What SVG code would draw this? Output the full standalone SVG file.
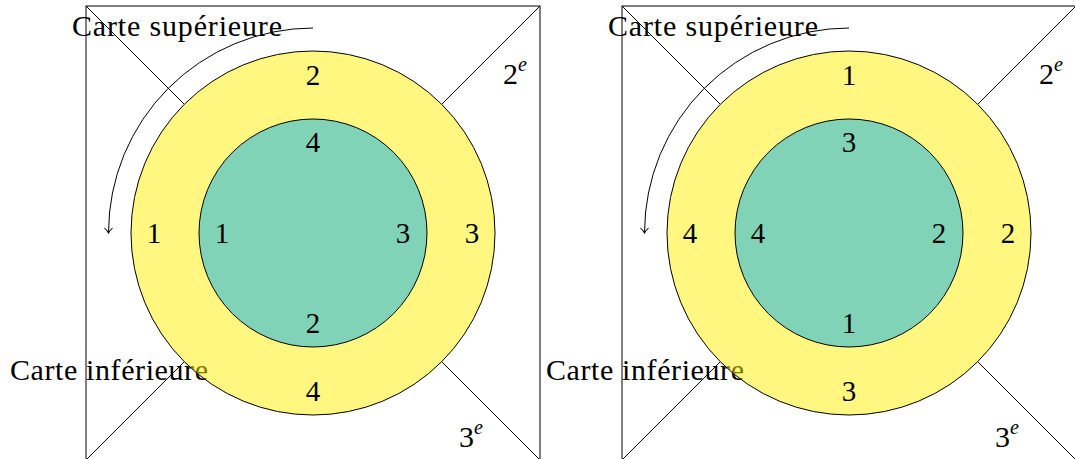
<svg xmlns="http://www.w3.org/2000/svg" width="1075" height="459" viewBox="0 0 1075 459">
<style>
.ln{fill:none;stroke:#000;stroke-width:1}
.outer{fill:#FFEF00;fill-opacity:0.5;stroke:#000;stroke-width:1}
.inner{fill:#80D3B7;stroke:#000;stroke-width:1}
.t{font-family:"Liberation Serif","Times New Roman",serif;font-size:30px;fill:#000}
.n{font-family:"Liberation Serif","Times New Roman",serif;font-size:29px;fill:#000;text-anchor:middle}
.sup{font-size:20px;font-style:italic}
</style>
<defs>
<marker id="arr" viewBox="-6 -5 8 10" refX="0" refY="0" markerWidth="8" markerHeight="10" markerUnits="userSpaceOnUse" orient="auto">
<path d="M-5,-4 Q-2,-1 0,0 Q-2,1 -5,4" fill="none" stroke="#000" stroke-width="1"/>
</marker>
</defs>
<g id="fig1">
<g id="frame1"><rect class="ln" x="86" y="6" width="454" height="454"/></g>
<g id="connectors1">
<line class="ln" x1="86" y1="6" x2="184" y2="104"/>
<line class="ln" x1="540" y1="6" x2="442" y2="104"/>
<line class="ln" x1="86" y1="460" x2="184" y2="362"/>
<line class="ln" x1="540" y1="460" x2="442" y2="362"/>
<path class="ln" d="M313,28 A205,205 0 0 0 108.5,233" marker-end="url(#arr)"/>
</g>
<g id="label-sup1"><text class="t" x="72" y="36" textLength="210" lengthAdjust="spacing">Carte supérieure</text></g>
<g id="label-inf1"><text class="t" x="10" y="380" textLength="198" lengthAdjust="spacing">Carte inférieure</text></g>
<g id="outer1"><circle class="outer" cx="313" cy="233" r="182"/>
<text class="n" x="313" y="85">2</text>
<text class="n" x="154" y="243">1</text>
<text class="n" x="472" y="243">3</text>
<text class="n" x="313" y="401">4</text>
</g>
<g id="inner1"><circle class="inner" cx="313" cy="233" r="114"/>
<text class="n" x="313" y="152">4</text>
<text class="n" x="222" y="243">1</text>
<text class="n" x="403" y="243">3</text>
<text class="n" x="313" y="333">2</text>
</g>
<g id="label-2e1"><text class="t" x="503" y="84">2<tspan class="sup" dy="-13">e</tspan></text></g>
<g id="label-3e1"><text class="t" x="459" y="447">3<tspan class="sup" dy="-13">e</tspan></text></g>
</g>
<g id="fig2">
<g id="frame2"><rect class="ln" x="622" y="6" width="454" height="454"/></g>
<g id="connectors2">
<line class="ln" x1="622" y1="6" x2="720" y2="104"/>
<line class="ln" x1="1076" y1="6" x2="978" y2="104"/>
<line class="ln" x1="622" y1="460" x2="720" y2="362"/>
<line class="ln" x1="1076" y1="460" x2="978" y2="362"/>
<path class="ln" d="M849,28 A205,205 0 0 0 644.5,233" marker-end="url(#arr)"/>
</g>
<g id="label-sup2"><text class="t" x="608" y="36" textLength="210" lengthAdjust="spacing">Carte supérieure</text></g>
<g id="label-inf2"><text class="t" x="546" y="380" textLength="198" lengthAdjust="spacing">Carte inférieure</text></g>
<g id="outer2"><circle class="outer" cx="849" cy="233" r="182"/>
<text class="n" x="849" y="85">1</text>
<text class="n" x="690" y="243">4</text>
<text class="n" x="1008" y="243">2</text>
<text class="n" x="849" y="401">3</text>
</g>
<g id="inner2"><circle class="inner" cx="849" cy="233" r="114"/>
<text class="n" x="849" y="152">3</text>
<text class="n" x="758" y="243">4</text>
<text class="n" x="939" y="243">2</text>
<text class="n" x="849" y="333">1</text>
</g>
<g id="label-2e2"><text class="t" x="1039" y="84">2<tspan class="sup" dy="-13">e</tspan></text></g>
<g id="label-3e2"><text class="t" x="995" y="447">3<tspan class="sup" dy="-13">e</tspan></text></g>
</g>
</svg>
